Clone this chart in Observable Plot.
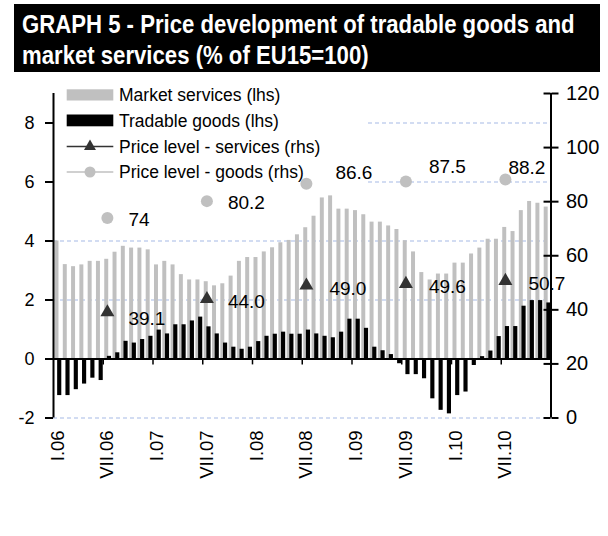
<!DOCTYPE html>
<html>
<head>
<meta charset="utf-8">
<script src="https://cdn.jsdelivr.net/npm/d3@7"></script>
<script src="https://cdn.jsdelivr.net/npm/@observablehq/plot@0.6"></script>
<style>
  html, body { margin: 0; padding: 0; background: #fff; }
  body { width: 608px; height: 536px; overflow: hidden; font-family: "Liberation Sans", Arial, sans-serif; }
  #title { height: 86px; }
  #title svg, #chart svg { display: block; }
</style>
</head>
<body>
<div id="title">
  <svg width="608" height="86">
    <rect x="14" y="4" width="586" height="68" fill="#000"></rect>
    <text id="t1" x="0" y="0" fill="#fff" font-family="Liberation Sans, Arial, sans-serif" font-weight="bold" font-size="26" text-anchor="start">GRAPH 5 - Price development of tradable goods and</text>
    <text id="t2" x="0" y="0" fill="#fff" font-family="Liberation Sans, Arial, sans-serif" font-weight="bold" font-size="26" text-anchor="start">market services (% of EU15=100)</text>
  </svg>
</div>
<div id="chart"></div>
<script>
// ---------- data ----------
const years = ["06", "07", "08", "09", "10"];
const roman = ["I","II","III","IV","V","VI","VII","VIII","IX","X","XI","XII"];
const months = years.flatMap(y => roman.map(m => `${m}.${y}`));

const marketServices = [
  4.0, 3.2, 3.13, 3.19, 3.31, 3.31, 3.38, 3.62, 3.82, 3.76, 3.76, 3.70,
  3.19, 3.31, 3.19, 2.86, 2.68, 2.68, 2.62, 2.48, 2.55, 2.81, 3.31, 3.44,
  3.44, 3.63, 3.77, 3.94, 4.02, 4.21, 4.45, 4.84, 5.46, 5.53, 5.08, 5.08,
  5.03, 4.89, 4.64, 4.64, 4.51, 4.39, 4.01, 3.63, 2.93, 2.68, 2.88, 2.88,
  3.25, 3.25, 3.56, 3.76, 4.06, 4.06, 4.46, 4.32, 5.03, 5.34, 5.28, 5.15
];
const tradableGoods = [
  -1.24, -1.24, -1.04, -0.85, -0.65, -0.73, 0.09, 0.21, 0.60, 0.54, 0.66, 0.77,
  0.98, 0.85, 1.16, 1.16, 1.29, 1.42, 1.09, 0.85, 0.54, 0.40, 0.33, 0.40,
  0.59, 0.77, 0.84, 0.91, 0.84, 0.84, 0.98, 0.85, 0.77, 0.72, 0.91, 1.35,
  1.35, 1.04, 0.40, 0.28, 0.15, -0.16, -0.53, -0.53, -0.67, -1.35, -1.74, -1.86,
  -1.24, -1.12, -0.22, 0.08, 0.27, 0.76, 1.10, 1.10, 1.79, 1.98, 1.98, 1.90
];
const pointMonths = ["VII.06", "VII.07", "VII.08", "VII.09", "VII.10"];
const priceServices = [39.1, 44.0, 49.0, 49.6, 50.7];
const priceGoods = [74, 80.2, 86.6, 87.5, 88.2];
const tickLabels = ["I.06","VII.06","I.07","VII.07","I.08","VII.08","I.09","VII.09","I.10","VII.10"];
const lhsTicks = [-2, 0, 2, 4, 6, 8];
const rhsTicks = [0, 20, 40, 60, 80, 100, 120];
const lhsDomain = [-2, 9];
const rhsDomain = [0, 120];
const legendLabels = ["Market services (lhs)", "Tradable goods (lhs)", "Price level - services (rhs)", "Price level - goods (rhs)"];

// ---------- title fit (horizontal scale so the first line spans the box) ----------
(function fitTitle() {
  const t1 = document.getElementById("t1"), t2 = document.getElementById("t2");
  const w1 = t1.getComputedTextLength();
  const k = 553 / w1;
  t1.setAttribute("transform", `translate(22,33) scale(${k.toFixed(4)},1)`);
  t2.setAttribute("transform", `translate(22,64) scale(${k.toFixed(4)},1)`);
})();

// ---------- helpers ----------
const toL = v => lhsDomain[0] + (v - rhsDomain[0]) * (lhsDomain[1] - lhsDomain[0]) / (rhsDomain[1] - rhsDomain[0]);
const fromL = v => rhsDomain[0] + (v - lhsDomain[0]) * (rhsDomain[1] - rhsDomain[0]) / (lhsDomain[1] - lhsDomain[0]);

const rows = months.map((m, i) => ({m, i, ms: marketServices[i], tg: tradableGoods[i]}));
const pts = pointMonths.map((m, k) => ({k, i: months.indexOf(m), s: priceServices[k], g: priceGoods[k]}));
const ticksX = tickLabels.map(l => ({l, i: months.indexOf(l)}));

const GREY = "#c0c0c0", DARK = "#333333", GRID = "#c3d1ee";

function labels(field, fmt, sel, dx, dy) {
  return Plot.text(pts.filter(d => sel.includes(d.k)), {
    x: d => d.i + 0.5, y: d => toL(d[field]), text: d => fmt(d[field]),
    textAnchor: "start", lineAnchor: "middle", dx, dy, fontSize: 19, fill: "#000"
  });
}

const chart = Plot.plot({
  width: 608,
  height: 450,
  marginLeft: 53,
  marginRight: 57.5,
  marginTop: 7,
  marginBottom: 118.5,
  x: {type: "linear", domain: [0, months.length], axis: null},
  y: {domain: lhsDomain, axis: null},
  style: {fontFamily: "Liberation Sans, Arial, sans-serif", fontSize: "18px", color: "#000", background: "#fff", overflow: "visible"},
  marks: [
    Plot.ruleY(lhsTicks.filter(d => d !== 0), {x1: 0, x2: months.length, stroke: GRID, strokeWidth: 1.3, strokeDasharray: "4,3"}),
    Plot.rect(rows, {x1: d => d.i + 0.18, x2: d => d.i + 0.66, y1: 0, y2: "ms", fill: GREY}),
    Plot.rect(rows, {x1: d => d.i + 0.5, x2: d => d.i + 1.0, y1: 0, y2: "tg", fill: "#000"}),
    Plot.ruleY([0], {x1: 0, x2: months.length, stroke: "#000", strokeWidth: 2}),
    Plot.ruleX(ticksX.filter(d => d.i > 0), {x: "i", y1: 0, y2: -0.2, stroke: "#000", strokeWidth: 1.5}),
    Plot.ruleX([0], {y1: lhsDomain[0], y2: lhsDomain[1], stroke: "#000", strokeWidth: 2}),
    Plot.ruleX([months.length], {y1: lhsDomain[0], y2: lhsDomain[1], stroke: "#000", strokeWidth: 2}),
    Plot.axisY(lhsTicks, {anchor: "left", tickSize: 8, tickPadding: 11, strokeWidth: 2, fontSize: 18, tickFormat: d => String(d)}),
    Plot.axisY(rhsTicks.map(toL), {anchor: "right", tickSize: 7, tickPadding: 8, strokeWidth: 2, fontSize: 20, tickFormat: d => String(Math.round(fromL(d)))}),
    Plot.ruleY(rhsTicks.map(toL), {x1: months.length - 0.84, x2: months.length, stroke: "#000", strokeWidth: 2}),
    Plot.text(ticksX, {x: d => d.i + 0.5, y: -2.42, text: "l", rotate: -90, textAnchor: "end", lineAnchor: "middle", fontSize: 18.5, fill: "#000"}),
    Plot.dot(pts, {x: d => d.i + 0.5, y: d => toL(d.g), r: 6, fill: GREY, stroke: "none"}),
    Plot.dot(pts, {x: d => d.i + 0.5, y: d => toL(d.s), r: 5.2, symbol: "triangle", fill: DARK, stroke: "none"}),
    labels("s", v => v.toFixed(1), [0], 21, 7),
    labels("s", v => v.toFixed(1), [1], 21, 3),
    labels("s", v => v.toFixed(1), [2, 3, 4], 23, 3),
    labels("g", v => String(v), [0, 1], 21, 2),
    labels("g", v => String(v), [2], 29, -11),
    labels("g", v => String(v), [3], 23, -14),
    labels("g", v => String(v), [4], 3, -12)
  ]
});
document.getElementById("chart").appendChild(chart);

// ---------- legend (inside the svg, under the bars and points) ----------
(function legend() {
  const firstRect = chart.querySelector('g[aria-label="rect"]');
  const g = document.createElementNS("http://www.w3.org/2000/svg", "g");
  chart.insertBefore(g, firstRect);
  const lg = d3.select(g)
    .attr("font-family", "Liberation Sans, Arial, sans-serif")
    .attr("font-size", 17.5)
    .attr("text-anchor", "start");
  lg.append("rect").attr("x", 54).attr("y", 0).attr("width", 311).attr("height", 100).attr("fill", "#fff");
  const rowsY = [9, 34.5, 60.5, 86];
  lg.append("rect").attr("x", 66.7).attr("y", rowsY[0] - 5.7).attr("width", 46.6).attr("height", 11.2).attr("fill", GREY);
  lg.append("rect").attr("x", 66.7).attr("y", rowsY[1] - 6).attr("width", 46.6).attr("height", 11.8).attr("fill", "#000");
  lg.append("line").attr("x1", 66.7).attr("x2", 113.3).attr("y1", rowsY[2]).attr("y2", rowsY[2]).attr("stroke", DARK).attr("stroke-width", 1.6);
  lg.append("path").attr("d", d3.symbol(d3.symbolTriangle, 62)()).attr("transform", `translate(90,${rowsY[2]})`).attr("fill", DARK);
  lg.append("line").attr("x1", 66.7).attr("x2", 113.3).attr("y1", rowsY[3]).attr("y2", rowsY[3]).attr("stroke", GREY).attr("stroke-width", 1.6);
  lg.append("circle").attr("cx", 90).attr("cy", rowsY[3]).attr("r", 5.5).attr("fill", GREY);
  legendLabels.forEach((t, k) => {
    lg.append("text").attr("x", 119).attr("y", rowsY[k]).attr("dy", "0.35em").attr("fill", "#000").attr("text-anchor", "start").text(t);
  });
})();
</script>
</body>
</html>
